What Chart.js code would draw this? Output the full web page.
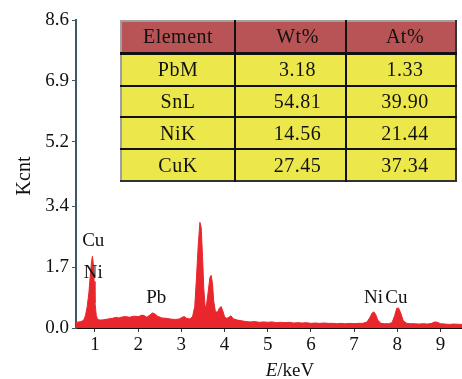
<!DOCTYPE html>
<html>
<head>
<meta charset="utf-8">
<script src="https://cdn.jsdelivr.net/npm/chart.js@4"></script>
<style>
  body { margin: 0; background: #fff; }
  #wrap { position: relative; width: 462px; height: 379px; }
  #eds { position: absolute; left: 120px; top: 20px; width: 337px; height: 162px;
         border-collapse: collapse; font-family: "Liberation Serif", serif; font-size: 20px; letter-spacing: 0.5px;
         border-left: 2px solid #a0a0a0; border-top: 2px solid #a0a0a0;
         border-right: 2px solid #333; border-bottom: 2px solid #333; table-layout: fixed; }
  #eds td, #eds th { border: 2px solid #111; text-align: center; padding: 0; font-weight: normal; color: #111; }
  #eds th { background: #b85356; border-top: none; border-bottom-width: 3px; }
  #eds td { background: #ece84b; }
  #eds tr > *:first-child { border-left: none; width: 112px; }
  #eds tr > *:nth-child(2) { padding-left: 14px; width: 95px; }
  #eds tr > *:last-child { border-right: none; padding-left: 8px; }
  #eds tr:last-child td { border-bottom: none; }
</style>
</head>
<body>
<div id="wrap">
  <canvas id="myChart" width="462" height="379"></canvas>
  <table id="eds"></table>
</div>
<script>
// spectrum (keV, Kcnt)
let energies = [0.56,0.62,0.68,0.74,0.78,0.82,0.86,0.89,0.92,0.94,0.96,0.98,1.00,1.03,1.06,1.12,1.2,1.3,1.4,1.5,1.55,1.6,1.7,1.8,1.9,2.0,2.1,2.15,2.2,2.27,2.33,2.38,2.45,2.55,2.65,2.75,2.85,2.95,3.02,3.07,3.12,3.2,3.26,3.31,3.35,3.39,3.43,3.46,3.49,3.52,3.55,3.58,3.62,3.66,3.69,3.72,3.75,3.79,3.84,3.88,3.92,3.96,4.0,4.05,4.1,4.15,4.2,4.3,4.4,4.5,4.6,4.7,4.8,4.9,5.0,5.1,5.2,5.3,5.4,5.5,5.6,5.7,5.8,5.9,6.0,6.1,6.2,6.3,6.4,6.5,6.6,6.7,6.8,6.9,7.0,7.1,7.2,7.3,7.36,7.42,7.46,7.5,7.55,7.62,7.7,7.8,7.88,7.94,7.99,8.03,8.08,8.14,8.22,8.3,8.4,8.5,8.6,8.7,8.8,8.87,8.93,9.0,9.1,9.2,9.3,9.5];
let counts = [0.15,0.17,0.18,0.22,0.35,0.6,1.0,1.45,1.85,2.0,1.8,1.3,0.7,0.35,0.24,0.22,0.23,0.25,0.27,0.3,0.28,0.3,0.32,0.3,0.33,0.32,0.36,0.34,0.3,0.36,0.42,0.4,0.33,0.28,0.27,0.25,0.24,0.25,0.3,0.32,0.27,0.25,0.32,0.6,1.4,2.3,2.95,2.8,2.0,1.1,0.6,0.62,1.0,1.4,1.47,1.25,0.75,0.45,0.45,0.55,0.6,0.48,0.32,0.27,0.3,0.34,0.26,0.22,0.2,0.18,0.17,0.18,0.16,0.17,0.16,0.17,0.15,0.16,0.15,0.16,0.14,0.15,0.14,0.15,0.13,0.14,0.13,0.14,0.13,0.13,0.12,0.13,0.12,0.13,0.12,0.13,0.13,0.17,0.28,0.42,0.45,0.38,0.22,0.13,0.12,0.12,0.15,0.35,0.55,0.56,0.42,0.2,0.13,0.12,0.12,0.11,0.12,0.11,0.13,0.17,0.16,0.12,0.11,0.1,0.11,0.1];

let xTicks = [1,2,3,4,5,6,7,8,9];
let yTicks = [0.0,1.7,3.4,5.2,6.9,8.6];

let peakNames = ['Cu','Ni','Pb','Ni','Cu'];
let peakKeV = [0.96,0.96,2.42,7.45,7.98];
let peakKcnt = [2.42,1.54,0.84,0.84,0.84];

let tableHead = ['Element','Wt%','At%'];
let elements = ['PbM','SnL','NiK','CuK'];
let wtPct = ['3.18','54.81','14.56','27.45'];
let atPct = ['1.33','39.90','21.44','37.34'];

let table = document.getElementById('eds');
let html = '<tr><th>' + tableHead.join('</th><th>') + '</th></tr>';
for (var i = 0; i < elements.length; i++) {
    html += '<tr><td>' + elements[i] + '</td><td>' + wtPct[i] + '</td><td>' + atPct[i] + '</td></tr>';
}
table.innerHTML = html;

let points = energies.map((e, i) => ({x: e, y: counts[i]}));
const serif = '"Liberation Serif", serif';

const labels = {
    id: 'labels',
    afterDraw(chart) {
        const ctx = chart.ctx;
        const xs = chart.scales.x, ys = chart.scales.y;
        ctx.save();
        ctx.fillStyle = '#111';
        ctx.font = '19px ' + serif;
        ctx.textAlign = 'center';
        ctx.textBaseline = 'middle';
        for (let i = 0; i < peakNames.length; i++) {
            ctx.fillText(peakNames[i], xs.getPixelForValue(peakKeV[i]), ys.getPixelForValue(peakKcnt[i]));
        }
        // y title
        ctx.save();
        ctx.translate(25, 176);
        ctx.rotate(-Math.PI / 2);
        ctx.font = '20px ' + serif;
        ctx.fillText('Kcnt', 0, 0);
        ctx.restore();
        // x title, italic E
        ctx.textAlign = 'left';
        ctx.font = 'italic 19px ' + serif;
        let wE = ctx.measureText('E').width;
        ctx.font = '19px ' + serif;
        let wR = ctx.measureText('/keV').width;
        let x0 = 290 - (wE + wR) / 2;
        ctx.font = 'italic 19px ' + serif;
        ctx.fillText('E', x0, 371);
        ctx.font = '19px ' + serif;
        ctx.fillText('/keV', x0 + wE, 371);
        ctx.restore();
    }
};

const myChart = new Chart(document.getElementById('myChart').getContext('2d'), {
    type: 'line',
    data: {
        datasets: [{
            data: points,
            borderColor: '#e8262b',
            backgroundColor: '#e8262b',
            borderWidth: 1,
            pointRadius: 0,
            tension: 0,
            fill: 'origin'
        }]
    },
    options: {
        responsive: false,
        animation: false,
        layout: { padding: { top: 20, left: 0, right: 0, bottom: 0 } },
        plugins: { legend: { display: false }, tooltip: { enabled: false } },
        scales: {
            x: {
                type: 'linear',
                min: 0.56, max: 9.5,
                afterBuildTicks: s => { s.ticks = xTicks.map(v => ({value: v})); },
                afterFit: s => { s.height = 51; },
                border: { color: '#111', width: 2 },
                grid: { drawOnChartArea: false, tickLength: 4, tickColor: '#333' },
                ticks: { color: '#111', font: { family: serif, size: 19 }, padding: 2, maxRotation: 0,
                         callback: v => v }
            },
            y: {
                min: 0, max: 8.6,
                afterBuildTicks: s => { s.ticks = yTicks.map(v => ({value: v})); },
                afterFit: s => { s.width = 76; },
                border: { color: '#3b5866', width: 2 },
                grid: { drawOnChartArea: false, tickLength: 4, tickColor: '#3b5866' },
                ticks: { color: '#111', font: { family: serif, size: 19 }, padding: 3,
                         callback: v => v.toFixed(1) }
            }
        }
    },
    plugins: [labels]
});
</script>
</body>
</html>
